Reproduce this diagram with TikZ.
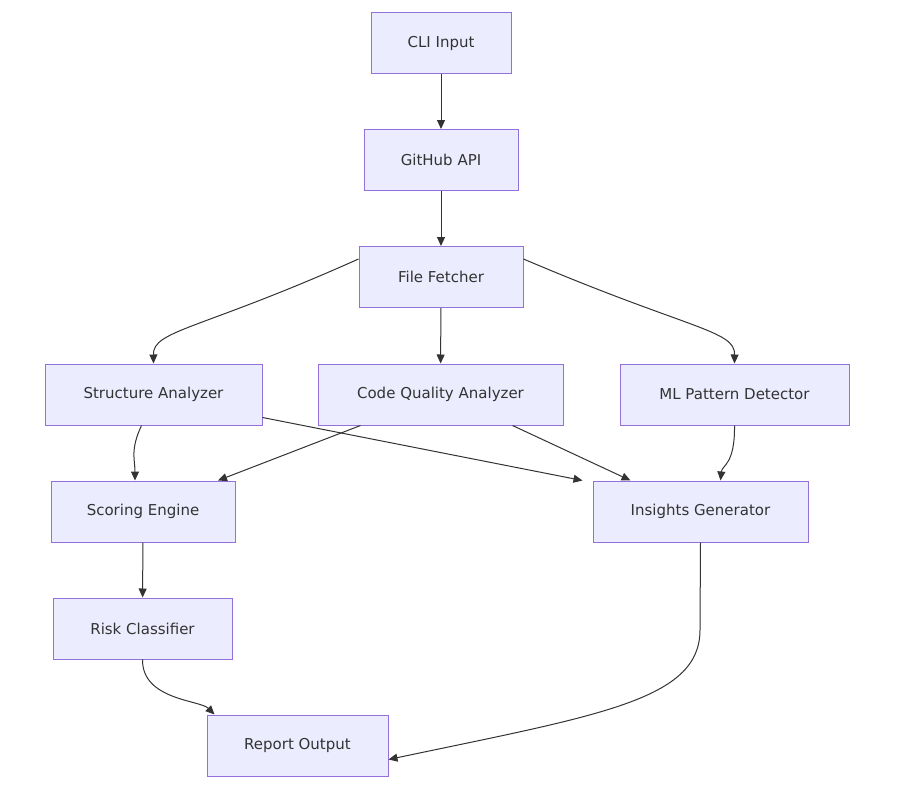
\documentclass[tikz,border=0pt]{standalone}
\usepackage{fontspec}
\setmainfont{DejaVu Sans}
\usetikzlibrary{arrows.meta}
\definecolor{boxfill}{HTML}{ECECFF}
\definecolor{boxline}{HTML}{9370DB}
\definecolor{linkcol}{HTML}{333333}
\begin{document}
\begin{tikzpicture}[
            x=1pt, y=-1pt,
            block/.style = {
                draw=boxline, fill=boxfill, line width=1pt,
                minimum height=61pt, inner sep=0pt,
                font=\fontsize{15}{18}\selectfont, text=linkcol,
            },
            link/.style = {
                draw=linkcol, line width=1pt,
                -{Triangle[length=9pt,width=8pt]},
            },
        ]
        \useasboundingbox (0,0) rectangle (911,792);

        % Blokken
        \node[block, minimum width=140pt] (cli) at (441,43.5) {CLI Input};
        \node[block, minimum width=154pt] (api) at (441,160) {GitHub API};
        \node[block, minimum width=164pt] (fetch) at (441,277) {File Fetcher};
        \node[block, minimum width=217pt] (struct) at (153.5,394.5) {Structure Analyzer};
        \node[block, minimum width=245pt] (quality) at (440.5,394.5) {Code Quality Analyzer};
        \node[block, minimum width=229pt] (ml) at (734.5,394.5) {ML Pattern Detector};
        \node[block, minimum width=184pt] (score) at (143,511.5) {Scoring Engine};
        \node[block, minimum width=215pt] (insight) at (700.5,511.5) {Insights Generator};
        \node[block, minimum width=179pt] (risk) at (142.5,628.5) {Risk Classifier};
        \node[block, minimum width=181pt] (report) at (297.5,745.5) {Report Output};

        % Verbindingen
        \path[link] (cli) -- (api);
        \path[link] (api) -- (fetch);
        \path[link] (fetch) -- (quality);
        \path[link] ([yshift=18pt]fetch.west) .. controls (200,330) and (153,330) .. (struct.north);
        \path[link] ([yshift=18pt]fetch.east) .. controls (690,330) and (735,330) .. (ml.north);
        \path[link] ([xshift=-12pt]struct.south) .. controls (130,450) and (135,460) .. ([xshift=-8pt]score.north);
        \path[link] ([yshift=-23pt]struct.east) -- ([xshift=-10pt]insight.north west);
        \path[link] ([xshift=-80pt]quality.south) -- ([xshift=75pt]score.north);
        \path[link] ([xshift=72pt]quality.south) -- ([xshift=-70pt]insight.north);
        \path[link] ([xshift=0pt]ml.south) .. controls (735,465) and (722,465) .. ([xshift=20pt]insight.north);
        \path[link] (score) -- (risk);
        \path[link] (risk.south) .. controls (142,700) and (200,700) .. ([xshift=-83pt]report.north);
        \path[link] (insight.south) -- (700,630) .. controls (700,700) and (600,715) .. ([yshift=-14pt]report.east);
    \end{tikzpicture}
\end{document}
